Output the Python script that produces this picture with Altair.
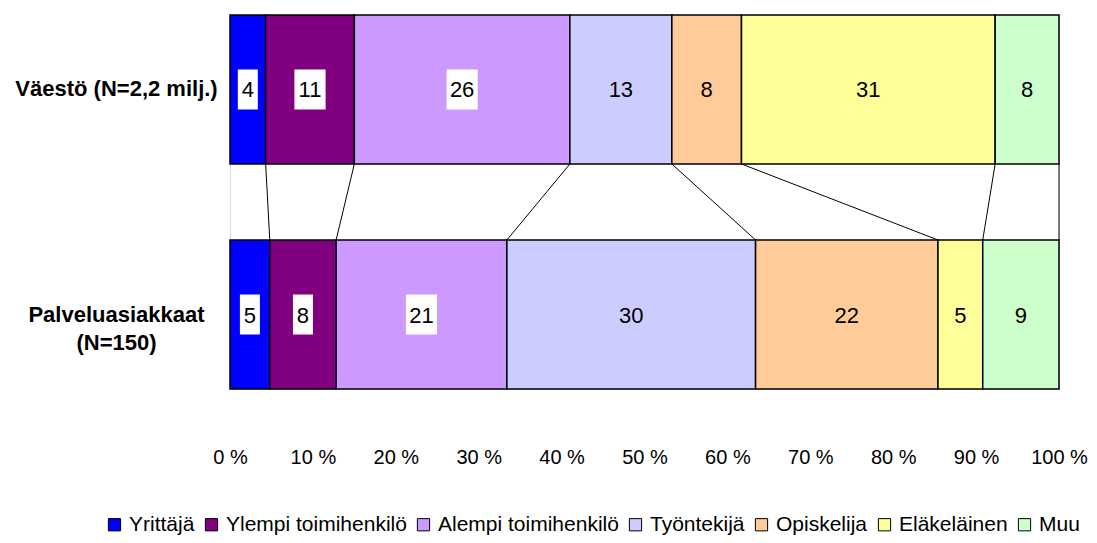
import altair as alt
import pandas as pd

# ---- data ----
categories = ["Yrittäjä", "Ylempi toimihenkilö", "Alempi toimihenkilö",
              "Työntekijä", "Opiskelija", "Eläkeläinen", "Muu"]
colors = ["#0000FF", "#800080", "#CC99FF", "#CCCCFF", "#FFCC99", "#FFFF99", "#CCFFCC"]
rows = ["Väestö (N=2,2 milj.)", "Palveluasiakkaat\n(N=150)"]

vaesto_values = [4.3, 10.7, 26.0, 12.3, 8.4, 30.6, 7.7]
vaesto_labels = [4, 11, 26, 13, 8, 31, 8]
palvelu_values = [4.8, 8.0, 20.6, 30.0, 22.0, 5.4, 9.2]
palvelu_labels = [5, 8, 21, 30, 22, 5, 9]

boxed = ["Yrittäjä", "Ylempi toimihenkilö", "Alempi toimihenkilö"]
x_ticks = [0, 10, 20, 30, 40, 50, 60, 70, 80, 90, 100]

FONT = "Liberation Sans"

# ---- build tables ----
recs = []
cums = []
for row, vals, labs in [(rows[0], vaesto_values, vaesto_labels),
                        (rows[1], palvelu_values, palvelu_labels)]:
    total = sum(vals)
    c = 0.0
    cl = []
    for i, (cat, v, lab) in enumerate(zip(categories, vals, labs)):
        start = c / total * 100
        c += v
        end = c / total * 100
        cl.append(end)
        recs.append(dict(row=row, category=cat, order=i, start=start, end=end,
                         mid=(start + end) / 2, label=str(lab),
                         ndig=str(len(str(lab))), boxed=cat in boxed))
    cums.append(cl)
df = pd.DataFrame(recs)
lines_df = pd.DataFrame(dict(c1=cums[0], c2=cums[1], r1=rows[0], r2=rows[1]))

yscale = alt.Scale(domain=rows, paddingInner=0.3378, paddingOuter=0)
xscale = alt.Scale(domain=[0, 100], nice=False, zero=False)
xaxis = alt.Axis(values=x_ticks, labelExpr="datum.value + ' %'", domain=False, ticks=False,
                 grid=False, labelPadding=58, labelFontSize=20, labelFont=FONT,
                 labelColor="black", labelFlush=False, title=None)
yaxis = alt.Axis(domain=False, ticks=False, grid=False, labelFont=FONT, labelFontSize=22,
                 labelFontWeight="bold", labelColor="black", labelAlign="center",
                 labelPadding=114, labelLimit=400, labelLineHeight=28,
                 labelExpr="split(datum.label, '\\n')", title=None)

base = alt.Chart(df)

bars = base.mark_bar(stroke="black", strokeWidth=1.5).encode(
    x=alt.X("start:Q", scale=xscale, axis=xaxis),
    x2="end:Q",
    y=alt.Y("row:N", scale=yscale, axis=yaxis, sort=rows),
    color=alt.Color("category:N", scale=alt.Scale(domain=categories, range=colors),
                    legend=alt.Legend(title=None, orient="none", direction="horizontal",
                                      columns=7, legendX=-126, legendY=499,
                                      symbolType="square", symbolSize=150,
                                      symbolStrokeColor="black", symbolStrokeWidth=1,
                                      labelFont=FONT, labelFontSize=21, labelColor="black",
                                      labelOffset=4, columnPadding=6, labelLimit=400)),
)

narrow = "M-0.5,-1L0.5,-1L0.5,1L-0.5,1Z"
wide = "M-0.78,-1L0.78,-1L0.78,1L-0.78,1Z"
boxes = base.transform_filter("datum.boxed").mark_point(
    filled=True, color="white", opacity=1, size=1600, strokeWidth=0
).encode(
    x=alt.X("mid:Q", scale=xscale, axis=xaxis),
    y=alt.Y("row:N", scale=yscale, axis=yaxis, sort=rows),
    shape=alt.Shape("ndig:N", scale=alt.Scale(domain=["1", "2"], range=[narrow, wide]),
                    legend=None),
)

texts = base.mark_text(font=FONT, fontSize=22, color="black", baseline="middle", dy=1).encode(
    x=alt.X("mid:Q", scale=xscale, axis=xaxis),
    y=alt.Y("row:N", scale=yscale, axis=yaxis, sort=rows),
    text="label:N",
)

connectors = alt.Chart(lines_df).mark_rule(color="black", strokeWidth=1).encode(
    x=alt.X("c1:Q", scale=xscale, axis=xaxis),
    x2="c2:Q",
    y=alt.Y("r1:N", scale=yscale, axis=yaxis, bandPosition=1),
    y2=alt.Y2("r2:N", bandPosition=0),
)

chart = alt.layer(connectors, bars, boxes, texts).properties(
    width=829, height=374,
    autosize=alt.AutoSizeParams(type="none"),
    padding={"left": 222, "top": 7, "right": 30, "bottom": 146},
).configure_view(stroke=None).configure(background="white")

chart.save("out.html", embed_options={"renderer": "svg", "actions": False})
